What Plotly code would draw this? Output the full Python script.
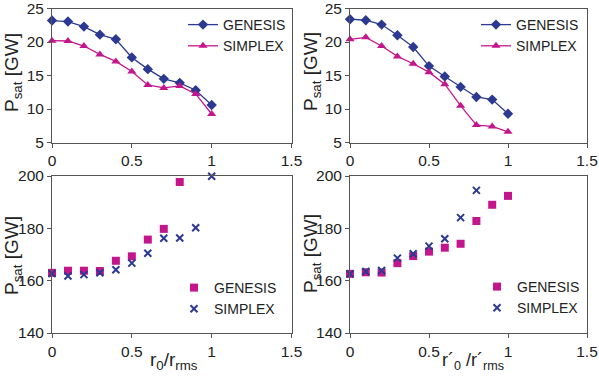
import plotly.graph_objects as go

x_vals = [0, 0.1, 0.2, 0.3, 0.4, 0.5, 0.6, 0.7, 0.8, 0.9, 1.0]

# top-left
tl_genesis = [23.2, 23.05, 22.3, 21.1, 20.4, 17.7, 15.95, 14.5, 13.9, 12.8, 10.6]
tl_simplex = [20.2, 20.15, 19.4, 18.15, 17.1, 15.6, 13.6, 13.15, 13.45, 12.25, 9.25]
# top-right
tr_genesis = [23.4, 23.25, 22.6, 21.0, 19.25, 16.4, 14.85, 13.3, 11.8, 11.4, 9.3]
tr_simplex = [20.4, 20.7, 19.4, 17.85, 16.75, 15.5, 13.7, 10.5, 7.6, 7.4, 6.6]
# bottom-left
bl_x_genesis = [0, 0.1, 0.2, 0.3, 0.4, 0.5, 0.6, 0.7, 0.8]
bl_genesis = [163.0, 163.8, 163.8, 163.7, 167.6, 169.3, 175.7, 179.8, 197.7]
bl_x_simplex = [0, 0.1, 0.2, 0.3, 0.4, 0.5, 0.6, 0.7, 0.8, 0.9, 1.0]
bl_simplex = [162.7, 161.8, 162.3, 163.0, 164.2, 166.7, 170.5, 176.2, 176.3, 180.2, 199.9]
# bottom-right
br_x_genesis = [0, 0.1, 0.2, 0.3, 0.4, 0.5, 0.6, 0.7, 0.8, 0.9, 1.0]
br_genesis = [162.6, 163.2, 163.1, 166.7, 169.4, 171.1, 172.6, 174.1, 182.8, 189.0, 192.4]
br_x_simplex = [0, 0.1, 0.2, 0.3, 0.4, 0.5, 0.6, 0.7, 0.8]
br_simplex = [162.6, 163.5, 163.9, 168.6, 170.3, 173.2, 176.0, 184.1, 194.5]

x_ticks = [0, 0.5, 1, 1.5]
x_ticktext = ["0", "0.5", "1", "1.5"]
top_y_ticks = [5, 10, 15, 20, 25]
bot_y_ticks = [140, 160, 180, 200]

BLUE = "#2b3990"
MAG = "#c4168c"
FONT = "Liberation Sans, Arial, sans-serif"

fig = go.Figure()

def line_pair(g, s, xa, ya, legend):
    fig.add_trace(go.Scatter(x=x_vals, y=g, mode="lines+markers", name="GENESIS",
                             xaxis=xa, yaxis=ya, legend=legend,
                             line=dict(color=BLUE, width=1.3),
                             marker=dict(symbol="diamond", size=8, color=BLUE),
                             cliponaxis=False))
    fig.add_trace(go.Scatter(x=x_vals, y=s, mode="lines+markers", name="SIMPLEX",
                             xaxis=xa, yaxis=ya, legend=legend,
                             line=dict(color=MAG, width=1.3),
                             marker=dict(symbol="triangle-up", size=8, color=MAG),
                             cliponaxis=False))

def scat_pair(xg, g, xs, s, xa, ya, legend):
    fig.add_trace(go.Scatter(x=xg, y=g, mode="markers", name="GENESIS",
                             xaxis=xa, yaxis=ya, legend=legend,
                             marker=dict(symbol="square", size=8, color=MAG),
                             cliponaxis=False))
    fig.add_trace(go.Scatter(x=xs, y=s, mode="markers", name="SIMPLEX",
                             xaxis=xa, yaxis=ya, legend=legend,
                             marker=dict(symbol="x-thin", size=7, color=BLUE,
                                         line=dict(color=BLUE, width=2)),
                             cliponaxis=False))

line_pair(tl_genesis, tl_simplex, "x", "y", "legend")
line_pair(tr_genesis, tr_simplex, "x2", "y2", "legend2")
scat_pair(bl_x_genesis, bl_genesis, bl_x_simplex, bl_simplex, "x3", "y3", "legend3")
scat_pair(br_x_genesis, br_genesis, br_x_simplex, br_simplex, "x4", "y4", "legend4")

W, H = 599, 376
def px_x(p):
    return p / W
def px_y(p):
    return 1 - p / H

xd_left = [px_x(52), px_x(291.5)]
xd_right = [px_x(350), px_x(587)]
yd_top = [px_y(142.5), px_y(8.5)]
yd_bot = [px_y(333), px_y(176)]

axis_common = dict(showgrid=False, zeroline=False, showline=True, linecolor="#555",
                   linewidth=1, mirror=True, ticks="outside", ticklen=4,
                   tickcolor="#555", automargin=False, ticklabeloverflow="allow",
                   tickfont=dict(family=FONT, size=15.5, color="#222"))

def xax(domain, anchor):
    return dict(axis_common, domain=domain, anchor=anchor, range=[0, 1.5],
                tickvals=x_ticks, ticktext=x_ticktext)

def yax(domain, anchor, rng, ticks):
    return dict(axis_common, domain=domain, anchor=anchor, range=rng, tickvals=ticks)

legend_common = dict(font=dict(family=FONT, size=14, color="#222"), bgcolor="rgba(0,0,0,0)",
                     borderwidth=0, tracegroupgap=0, itemwidth=30,
                     xanchor="right", yanchor="top")

psat = "P<sub>sat</sub> [GW]"

def ann(text, x, y, angle=0, size=19):
    return dict(text=text, x=px_x(x), y=px_y(y), xref="paper", yref="paper",
                showarrow=False, xanchor="center", yanchor="middle",
                textangle=angle, font=dict(family=FONT, size=size, color="#222"))

fig.update_layout(
    width=W, height=H,
    margin=dict(l=0, r=0, t=0, b=0, autoexpand=False),
    paper_bgcolor="white", plot_bgcolor="white",
    font=dict(family=FONT, color="#222"),
    xaxis=xax(xd_left, "y"),
    yaxis=yax(yd_top, "x", [5, 25], top_y_ticks),
    xaxis2=xax(xd_right, "y2"),
    yaxis2=yax(yd_top, "x2", [5, 25], top_y_ticks),
    xaxis3=xax(xd_left, "y3"),
    yaxis3=yax(yd_bot, "x3", [140, 200], bot_y_ticks),
    xaxis4=xax(xd_right, "y4"),
    yaxis4=yax(yd_bot, "x4", [140, 200], bot_y_ticks),
    legend=dict(legend_common, x=px_x(291), y=px_y(9)),
    legend2=dict(legend_common, x=px_x(584), y=px_y(9)),
    legend3=dict(legend_common, x=px_x(282), y=px_y(272)),
    legend4=dict(legend_common, x=px_x(585), y=px_y(271)),
    showlegend=True,
    annotations=[
        ann("r<sub>0</sub>/r<sub>rms</sub>", 174, 361),
        ann("r\u00b4<sub>0</sub> /r\u00b4<sub>rms</sub>", 473, 361, size=18),
        ann(psat, 13, 73, -90),
        ann(psat, 312, 72, -90),
        ann(psat, 13, 256, -90),
        ann(psat, 312, 254, -90),
    ],
)

fig.write_html("out.html",
               config={"displayModeBar": False},
               post_script="document.body.style.margin='0';document.body.style.overflow='hidden';")
